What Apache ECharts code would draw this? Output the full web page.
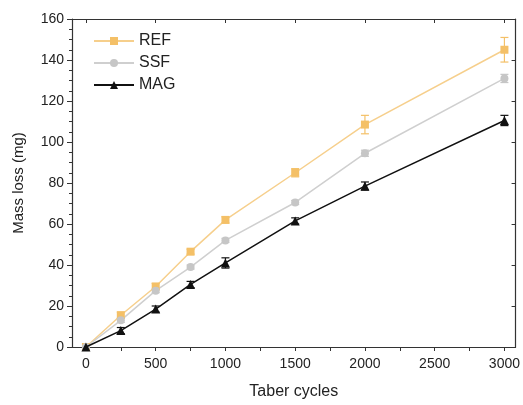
<!DOCTYPE html>
<html>
<head>
<meta charset="utf-8">
<script src="https://cdn.jsdelivr.net/npm/echarts@6/dist/echarts.min.js"></script>
<style>
  html, body { margin: 0; padding: 0; background: #fff; }
  #chart { width: 523px; height: 405px; }
</style>
</head>
<body>
<div id="chart"></div>
<script>
var cycles = [0, 250, 500, 750, 1000, 1500, 2000, 3000];
var refLoss = [0, 15.5, 29.5, 46.5, 62, 85, 108.5, 145];
var refErr  = [0, 1.5, 1.5, 1.2, 1.5, 2, 4.5, 6];
var ssfLoss = [0, 13, 27.5, 39, 52, 70.5, 94.5, 131];
var ssfErr  = [0, 1, 1, 1, 1, 1, 1.5, 2];
var magLoss = [0, 8, 18.5, 30.5, 41, 61.5, 78.5, 110.5];
var magErr  = [0, 1.5, 1.5, 1.5, 2.5, 1.5, 2, 2.5];
var xMajor = [0, 500, 1000, 1500, 2000, 2500, 3000];
var xTicks = [0, 250, 500, 750, 1000, 1250, 1500, 1750, 2000, 2250, 2500, 2750, 3000];

var font = 'Liberation Sans, Arial, sans-serif';
var colRef = '#f4c067', colSsf = '#c6c6c6', colMag = '#111111';
var axisCol = '#333';

function pairs(vals) {
  return cycles.map(function (c, i) { return [c, vals[i]]; });
}
function errData(vals, errs) {
  return cycles.map(function (c, i) { return [c, vals[i] - errs[i], vals[i] + errs[i]]; });
}
// error bars (vertical line + caps)
function errSeries(name, vals, errs, color) {
  return {
    type: 'custom',
    name: name + ' err',
    data: errData(vals, errs),
    z: 1,
    renderItem: function (params, api) {
      var lo = api.coord([api.value(0), api.value(1)]);
      var hi = api.coord([api.value(0), api.value(2)]);
      var w = 4;
      var st = { stroke: color, lineWidth: 1.2 };
      return {
        type: 'group',
        children: [
          { type: 'line', shape: { x1: lo[0], y1: lo[1], x2: hi[0], y2: hi[1] }, style: st },
          { type: 'line', shape: { x1: lo[0] - w, y1: lo[1], x2: lo[0] + w, y2: lo[1] }, style: st },
          { type: 'line', shape: { x1: hi[0] - w, y1: hi[1], x2: hi[0] + w, y2: hi[1] }, style: st }
        ]
      };
    }
  };
}

var chart = echarts.init(document.getElementById('chart'));
var xMin = -100, xMax = 3080;

chart.setOption({
  animation: false,
  backgroundColor: '#fff',
  grid: { left: 72, right: 1, top: 19, bottom: 53 },
  legend: {
    orient: 'vertical',
    left: 88, top: 28,
    itemWidth: 40, itemHeight: 10, itemGap: 6,
    textStyle: { fontFamily: font, fontSize: 16, color: '#222' },
    data: ['REF', 'SSF', 'MAG']
  },
  xAxis: [
    {
      type: 'value', min: xMin, max: xMax, position: 'bottom',
      name: 'Taber cycles', nameLocation: 'middle', nameGap: 37,
      nameTextStyle: { fontFamily: font, fontSize: 16, color: '#222' },
      axisLine: { show: true, onZero: false, lineStyle: { color: axisCol, width: 1.2 } },
      axisTick: { show: true, customValues: xTicks, length: 4, lineStyle: { color: axisCol } },
      axisLabel: { customValues: xMajor, margin: 10, fontFamily: font, fontSize: 14, color: '#222',
        formatter: function (v) { return String(v); } },
      splitLine: { show: false }
    },
    {
      type: 'value', min: xMin, max: xMax, position: 'top',
      axisLine: { show: true, onZero: false, lineStyle: { color: axisCol, width: 1.2 } },
      axisTick: { show: true, inside: true, length: 4, lineStyle: { color: axisCol } },
      axisLabel: { show: false },
      splitLine: { show: false }
    }
  ],
  yAxis: [
    {
      type: 'value', min: 0, max: 160, interval: 20, position: 'left',
      name: 'Mass loss (mg)', nameLocation: 'middle', nameGap: 46,
      nameTextStyle: { fontFamily: font, fontSize: 15, color: '#222' },
      axisLine: { show: true, onZero: false, lineStyle: { color: axisCol, width: 1.2 } },
      axisTick: { show: true, length: 5, lineStyle: { color: axisCol } },
      minorTick: { show: true, splitNumber: 4, length: 3, lineStyle: { color: axisCol } },
      axisLabel: { margin: 8, fontFamily: font, fontSize: 14, color: '#222' },
      splitLine: { show: false },
      minorSplitLine: { show: false }
    },
    {
      type: 'value', min: 0, max: 160, interval: 20, position: 'right',
      axisLine: { show: true, onZero: false, lineStyle: { color: axisCol, width: 1.2 } },
      axisTick: { show: true, inside: true, length: 4, lineStyle: { color: axisCol } },
      axisLabel: { show: false },
      splitLine: { show: false }
    }
  ],
  series: [
    errSeries('REF', refLoss, refErr, colRef),
    errSeries('SSF', ssfLoss, ssfErr, colSsf),
    errSeries('MAG', magLoss, magErr, colMag),
    {
      name: 'REF', type: 'line', data: pairs(refLoss),
      symbol: 'rect', symbolSize: 8, z: 3,
      itemStyle: { color: colRef },
      lineStyle: { color: '#f6cf8c', width: 1.5 }
    },
    {
      name: 'SSF', type: 'line', data: pairs(ssfLoss),
      symbol: 'circle', symbolSize: 8, z: 3,
      itemStyle: { color: colSsf },
      lineStyle: { color: '#cfcfcf', width: 1.5 }
    },
    {
      name: 'MAG', type: 'line', data: pairs(magLoss),
      symbol: 'triangle', symbolSize: 9, z: 4,
      itemStyle: { color: colMag },
      lineStyle: { color: colMag, width: 1.5 }
    }
  ]
});
</script>
</body>
</html>
